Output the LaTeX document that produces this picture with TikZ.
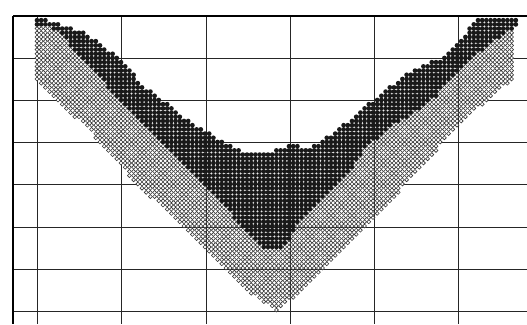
\documentclass[tikz,border=0pt]{standalone}
\newcommand\seginterp[3]{%
  \foreach \xa/\ya/\xb/\yb in #3{%
    \ifdim #2pt<\xa pt\relax\else\ifdim #2pt>\xb pt\relax\else
      \pgfmathsetmacro\tmpv{\ya+(\yb-\ya)*(#2-\xa)/(\xb-\xa)}%
      \global\let#1\tmpv
    \fi\fi}}
\def\toplist{33/13/60/22, 60/22/87/32, 87/32/120/57, 120/57/143/83, 143/83/190/120, 190/120/230/143, 230/143/250/152, 250/152/270/150, 270/150/288/143, 288/143/310/145, 310/145/333/132, 333/132/367/103, 367/103/410/69, 410/69/443/55, 443/55/460/37, 460/37/477/18, 477/18/520/14}
\def\midlist{33/24/60/30, 60/30/70/45, 70/45/90/68, 90/68/120/100, 120/100/143/123, 143/123/167/147, 167/147/180/163, 180/163/213/193, 213/193/230/213, 230/213/240/227, 240/227/250/237, 250/237/262/249, 262/249/283/249, 283/249/297/226, 297/226/313/210, 313/210/333/190, 333/190/350/170, 350/170/367/147, 367/147/393/124, 393/124/420/110, 420/110/437/95, 437/95/463/67, 463/67/490/43, 490/43/513/28, 513/28/520/28}
\def\botlist{33/80/53/100, 53/100/87/130, 87/130/140/190, 140/190/183/227, 183/227/207/253, 207/253/240/287, 240/287/267/307, 267/307/276/313, 276/313/297/297, 297/297/333/263, 333/263/373/223, 373/223/420/170, 420/170/468/118, 468/118/490/100, 490/100/512/82, 512/82/514/28, 514/28/520/28}
\tikzset{
  gridline/.style={draw=black!85, line width=0.8pt},
  frameline/.style={draw=black, line width=1.5pt},
  fulldot/.style={fill=black!90},
  opendot/.style={draw=black!80, fill=white, line width=0.6pt}
}
\begin{document}
\begin{tikzpicture}[x=1pt,y=-1pt]
\useasboundingbox (0,0) rectangle (527,324);
\fill[white] (0,0) rectangle (527,324);
% grid
\foreach \gx in {37,121,206,290,374,458}
  \draw[gridline] (\gx,16) -- (\gx,324);
\foreach \gy in {58.5,100.5,142.5,184.5,227,269,311}
  \draw[gridline] (13,\gy) -- (527,\gy);
\draw[frameline] (13,16) -- (527,16);
\draw[frameline] (13,16) -- (13,324);
% dots
\foreach \i in {0,...,114}{%
  \pgfmathsetmacro\cx{37+4.2*\i}%
  \seginterp\ytop{\cx}\toplist
  \seginterp\ymid{\cx}\midlist
  \seginterp\ybot{\cx}\botlist
  \pgfmathtruncatemacro\ja{ceil((\ytop+2-16)/4.2)}%
  \pgfmathtruncatemacro\jb{floor((\ybot-2-16)/4.2)}%
  \ifnum\ja>\jb\relax\else
    \foreach \j in {\ja,...,\jb}{%
      \pgfmathsetmacro\cy{16+4.2*\j}%
      \ifdim\cy pt<\ymid pt\relax
        \fill[fulldot] (\cx,\cy) circle (2.35pt);
      \else
        \draw[opendot] (\cx,\cy) circle (1.95pt);
      \fi
    }%
  \fi
}
\end{tikzpicture}
\end{document}
